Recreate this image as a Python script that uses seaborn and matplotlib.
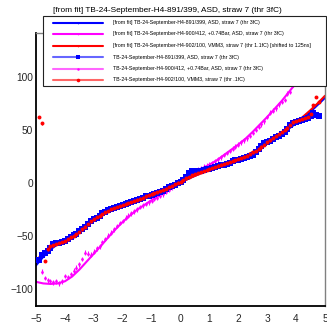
import numpy as np
import pandas as pd
import matplotlib
matplotlib.use("Agg")
import matplotlib.pyplot as plt
import seaborn as sns
from matplotlib.lines import Line2D
from matplotlib.patches import Rectangle
from matplotlib.ticker import MultipleLocator

# ---------------- data ----------------
title = "[from fit] TB-24-September-H4-891/399, ASD, straw 7 (thr 3fC)"
legend_labels = [
    "[from fit] TB-24-September-H4-891/399, ASD, straw 7 (thr 3fC)",
    "[from fit] TB-24-September-H4-900/412, +0.74Bar, ASD, straw 7 (thr 3fC)",
    "[from fit] TB-24-September-H4-902/100, VMM3, straw 7 (thr 1.1fC) [shifted to 125ns]",
    "TB-24-September-H4-891/399, ASD, straw 7 (thr 3fC)",
    "TB-24-September-H4-900/412, +0.74Bar, ASD, straw 7 (thr 3fC)",
    "TB-24-September-H4-902/100, VMM3, straw 7 (thr .1fC)",
]

pts_x = np.round(np.arange(-4.9, 4.85, 0.1), 1)      # -4.9 .. 4.8
mag_x = np.round(np.arange(-4.8, 4.55, 0.1), 1)      # -4.8 .. 4.5
fit_x = np.arange(-5.0, 5.001, 0.25)

blue_y = [-73, -68, -66, -64, -62, -58, -57, -57, -56, -55,
          -53, -51, -49, -48, -46, -44, -42, -39, -36, -34,
          -33, -31, -29, -28, -26, -25, -24, -23, -22, -21,
          -20, -19, -18, -17, -16, -15, -14, -13, -12.5, -11.5,
          -10.5, -9.5, -9, -8, -6, -4.5, -3, -2, 0,
          1, 2.5, 5, 9, 11, 11, 11, 11.5, 12, 12.5,
          13, 14, 15, 16, 16.5, 17, 18, 19, 20, 21,
          21.5, 22.5, 23.5, 24, 25, 26, 29, 32, 35, 37,
          38, 39, 41, 43, 44, 45.5, 48, 51, 54, 56,
          57, 58, 59, 60, 61, 63, 66, 64, 63]

red_y = [62, 56, -74, -63, -60, -59, -58, -57, -56, -55,
         -53.5, -51.5, -50, -48.5, -46.5, -44, -41.5, -39, -36.5, -34.5,
         -32.5, -31, -29.5, -28, -26.5, -25, -24, -23, -22, -21,
         -20, -19, -18, -17, -16, -15, -14, -13, -12, -11,
         -10, -9, -8, -6.5, -5.5, -4, -3, -1.5, 0,
         1, 2.5, 4, 5.5, 7, 8, 9, 10, 11, 12,
         13, 14, 15, 16, 17, 17.5, 18.5, 19.5, 20.5, 21.5,
         22.5, 23.5, 24.5, 25.5, 27, 28.5, 30, 32, 34, 36,
         38, 40, 42, 44, 46, 48, 50, 52, 54.5, 57,
         58, 59, 60, 61, 62, 65, 73, 81, 76]

mag_y = [-84, -90, -92, -93, -94, -93, -95, -93, -88,
         -89, -86, -83, -80, -77, -72, -66, -67, -68, -65,
         -62, -60, -56, -53, -50, -47, -44, -41, -38, -36,
         -33, -31, -29, -27, -25, -23, -21.5, -20, -18.5, -17,
         -15.5, -14, -12.5, -11, -8.5, -6.5, -4.5, -2, 0,
         2, 4, 6, 8, 10, 11.5, 12.5, 13.5, 15, 16,
         17, 18.5, 20, 22, 24, 26, 28, 30, 32, 34,
         36, 38, 40, 42, 44, 47, 50, 53, 55, 58,
         62, 66, 68, 70, 74, 76, 78, 84, 86, 92,
         96, 99, 102, 106, 109, 112]

blue_fit = [-78, -70, -63, -58, -54, -50, -45.5, -40, -34.5, -30, -26.5, -23.5, -21, -18.5,
            -16, -13.5, -11, -8.5, -5.5, -2.5, 0.5, 3.5, 6.5, 9.5, 12, 14.5, 17, 19.5, 22,
            25, 28.5, 32.5, 37, 41.5, 46, 51, 56, 61.5, 67, 73.5, 80]
red_fit = [-73, -67, -62, -57.5, -53.5, -49.5, -45, -40, -35, -30.5, -27, -24, -21.5, -19,
           -16.5, -14, -11.5, -8.5, -5.5, -2.5, 0.5, 3.5, 6.5, 9.5, 12.5, 15, 17.5, 20, 22.5,
           25.5, 29, 33, 37.5, 42, 46.5, 51.5, 57, 62.5, 68.5, 75, 82]
mag_fit = [-93.5, -95, -95.5, -95, -93, -88.5, -82, -74.5, -67, -59.5, -51.5, -44, -37, -31,
           -25.5, -21, -16.5, -12.5, -8, -3, 2, 6.5, 10, 13.5, 17, 21, 26, 31, 36, 41.5, 48,
           55, 62, 69.5, 77, 85.5, 94, 103, 112, 121, 130]

mag_err = 2.2
pts_err = 1.2

BLUE = "#0000ff"
MAG = "#ff00ff"
RED = "#ff0000"

# ---------------- figure ----------------
sns.set_style("white")
plt.rcParams["font.family"] = ["Liberation Sans", "DejaVu Sans"]

W, H = 327, 323
fig = plt.figure(figsize=(W / 100, H / 100), dpi=100)
ax = fig.add_axes([36 / W, 1 - 306 / H, (325 - 36) / W, (306 - 33) / H])

df_blue = pd.DataFrame({"x": pts_x, "y": blue_y})
df_red = pd.DataFrame({"x": pts_x, "y": red_y})
df_mag = pd.DataFrame({"x": mag_x, "y": mag_y})
df_fit = pd.DataFrame({"x": fit_x, "blue": blue_fit, "red": red_fit, "mag": mag_fit})

# fits
sns.lineplot(data=df_fit, x="x", y="mag", color=MAG, lw=1.5, ax=ax, zorder=2)
sns.lineplot(data=df_fit, x="x", y="blue", color=BLUE, lw=1.5, ax=ax, zorder=2)
sns.lineplot(data=df_fit, x="x", y="red", color=RED, lw=1.5, ax=ax, zorder=2)

# magenta points with error bars
ax.errorbar(df_mag["x"], df_mag["y"], yerr=mag_err, fmt="none", ecolor=MAG, elinewidth=0.8, zorder=3)
sns.scatterplot(data=df_mag, x="x", y="y", color=MAG, marker="o", s=4, linewidth=0, ax=ax, zorder=3)

# blue squares
ax.errorbar(df_blue["x"], df_blue["y"], yerr=pts_err, fmt="none", ecolor=BLUE, elinewidth=0.8, zorder=4)
sns.scatterplot(data=df_blue, x="x", y="y", color=BLUE, marker="s", s=14, linewidth=0, ax=ax, zorder=4)

# red circles
ax.errorbar(df_red["x"], df_red["y"], yerr=pts_err, fmt="none", ecolor=RED, elinewidth=0.8, zorder=5)
sns.scatterplot(data=df_red, x="x", y="y", color=RED, marker="o", s=8, linewidth=0, ax=ax, zorder=5)

ax.set_xlim(-5, 5)
ax.set_ylim(-116.3, 141.2)
ax.set_xlabel("")
ax.set_ylabel("")
ax.xaxis.set_major_locator(MultipleLocator(1))
ax.xaxis.set_minor_locator(MultipleLocator(0.2))
ax.yaxis.set_major_locator(MultipleLocator(50))
ax.yaxis.set_minor_locator(MultipleLocator(10))
ax.tick_params(axis="both", which="both", direction="in", top=False, right=False,
               color="black", width=0.9)
ax.tick_params(axis="both", which="major", length=5.2, labelsize=7.3)
ax.tick_params(axis="both", which="minor", length=2.6)
ax.tick_params(axis="x", which="major", pad=6.0)
ax.tick_params(axis="y", which="major", pad=2.0)
for s in ["left", "bottom"]:
    ax.spines[s].set_color("black")
    ax.spines[s].set_linewidth(1.3)
for s in ["right", "top"]:
    ax.spines[s].set_color("#808080")
    ax.spines[s].set_linewidth(1.0)

# title
fig.text(167 / W, 1 - 10 / H, title, ha="center", va="center", fontsize=5.95, color="black")

# legend (drawn manually, ROOT TLegend style)
lx0, lx1, ly0, ly1 = 43, 326, 16, 86
fig.add_artist(Rectangle((lx0 / W, 1 - ly1 / H), (lx1 - lx0) / W, (ly1 - ly0) / H,
                         transform=fig.transFigure, facecolor="white", edgecolor="#222222",
                         linewidth=0.8, zorder=10))
rows = [22.5, 34, 45.5, 57, 68.5, 80]
styles = [
    dict(color=BLUE, lw=1.5, alpha=1.0, marker="o", ms=1.2),
    dict(color=MAG, lw=1.5, alpha=1.0, marker="o", ms=1.2),
    dict(color=RED, lw=1.5, alpha=1.0, marker="o", ms=1.2),
    dict(color=BLUE, lw=1.5, alpha=0.6, marker="s", ms=3.2),
    dict(color=MAG, lw=1.5, alpha=0.6, marker="o", ms=1.8),
    dict(color=RED, lw=1.5, alpha=0.6, marker="o", ms=2.6),
]
for yrow, lab, st in zip(rows, legend_labels, styles):
    yy = 1 - yrow / H
    fig.add_artist(Line2D([53 / W, 103 / W], [yy, yy], transform=fig.transFigure,
                          color=st["color"], lw=st["lw"], alpha=st["alpha"], zorder=11))
    fig.add_artist(Line2D([78 / W], [yy], transform=fig.transFigure, color=st["color"],
                          marker=st["marker"], ms=st["ms"], mew=0, linestyle="none", zorder=12))
    fig.text(113 / W, yy, lab, ha="left", va="center", fontsize=3.75, color="black", zorder=12)

fig.savefig("out.png", dpi=100)
